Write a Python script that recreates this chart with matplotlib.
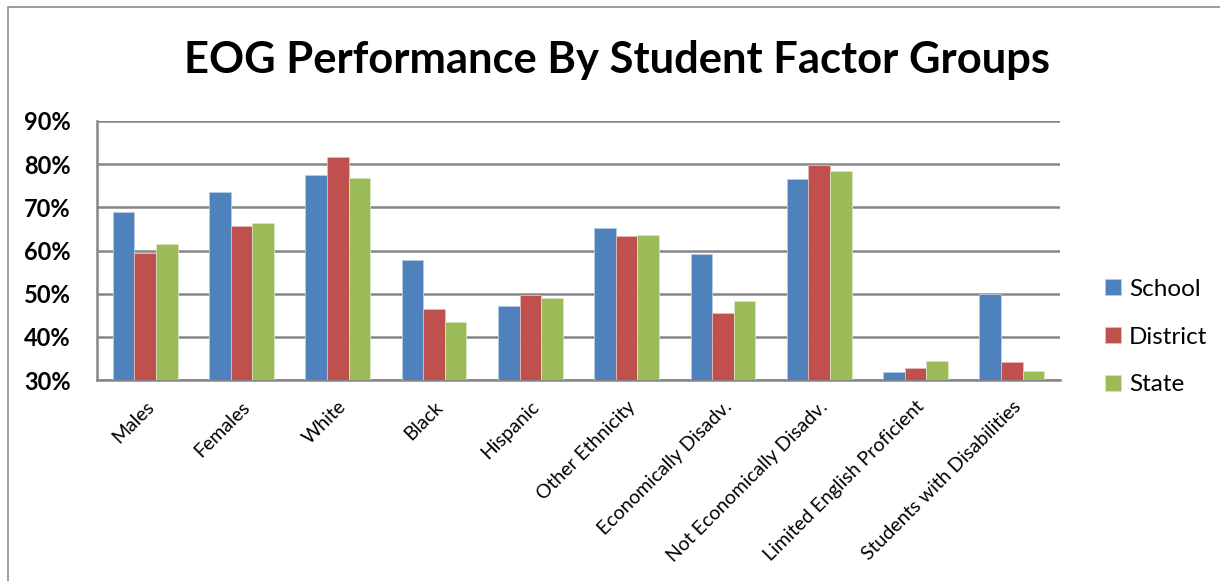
import matplotlib
matplotlib.use('Agg')
import matplotlib.pyplot as plt
import numpy as np
from matplotlib.patches import Rectangle

plt.rcParams['font.family'] = ['Lato', 'DejaVu Sans']

groups = ['Males', 'Females', 'White', 'Black', 'Hispanic', 'Other Ethnicity',
          'Economically Disadv.', 'Not Economically Disadv.',
          'Limited English Proficient', 'Students with Disabilities']
school = [68.9, 73.6, 77.6, 57.8, 47.1, 65.3, 59.3, 76.5, 31.9, 50.0]
district = [59.5, 65.6, 81.6, 46.4, 49.8, 63.4, 45.6, 79.9, 32.7, 34.2]
state = [61.5, 66.3, 76.7, 43.5, 48.9, 63.7, 48.2, 78.4, 34.5, 32.2]
yticks = [30, 40, 50, 60, 70, 80, 90]

fig = plt.figure(figsize=(12.2, 5.81), dpi=100)
# outer chart frame (right and bottom edges run off the picture)
fig.patches.append(Rectangle((8/1220, -0.1), 1.2, (574 + 58)/581, transform=fig.transFigure,
                             fill=False, edgecolor='#8c8c8c', linewidth=1.2))
ax = fig.add_axes([97/1220, 1 - 380/581, 963/1220, 259/581])

x = np.arange(len(groups))
w = 0.224
ax.bar(x - w, np.array(school) - 30, w, bottom=30, color='#4F81BD', edgecolor='#b8cce4', linewidth=0.6, label='School', zorder=3)
ax.bar(x, np.array(district) - 30, w, bottom=30, color='#C0504D', edgecolor='#e6b9b8', linewidth=0.6, label='District', zorder=3)
ax.bar(x + w, np.array(state) - 30, w, bottom=30, color='#9BBB59', edgecolor='#d7e4bd', linewidth=0.6, label='State', zorder=3)

ax.set_xlim(-0.5, len(groups) - 0.5)
ax.set_ylim(30, 90)
ax.set_yticks(yticks)
ax.set_yticklabels([f'{v}%' for v in yticks], fontsize=17, fontweight='bold')
ax.grid(axis='y', color='#868686', linewidth=1.8, zorder=0)
for s in ['top', 'right']:
    ax.spines[s].set_visible(False)
for s in ['left', 'bottom']:
    ax.spines[s].set_color('#868686')
    ax.spines[s].set_linewidth(1.8)
ax.tick_params(axis='y', length=0, pad=19)
ax.tick_params(axis='x', length=0, pad=13)
ax.set_xticks(x)
ax.set_xticklabels(groups, rotation=45, ha='right', rotation_mode='anchor', fontsize=14)

fig.text(617/1220, 1 - 60/581, 'EOG Performance By Student Factor Groups', ha='center', va='center',
         fontsize=31.3, fontweight='bold')

ax.legend(loc='center left', bbox_to_anchor=(1083/1220, 1 - 337/581), bbox_transform=fig.transFigure,
          frameon=False, fontsize=17.5, handlelength=0.65, handleheight=0.65, handletextpad=0.35,
          labelspacing=1.1)

fig.savefig('out.png', dpi=100)
